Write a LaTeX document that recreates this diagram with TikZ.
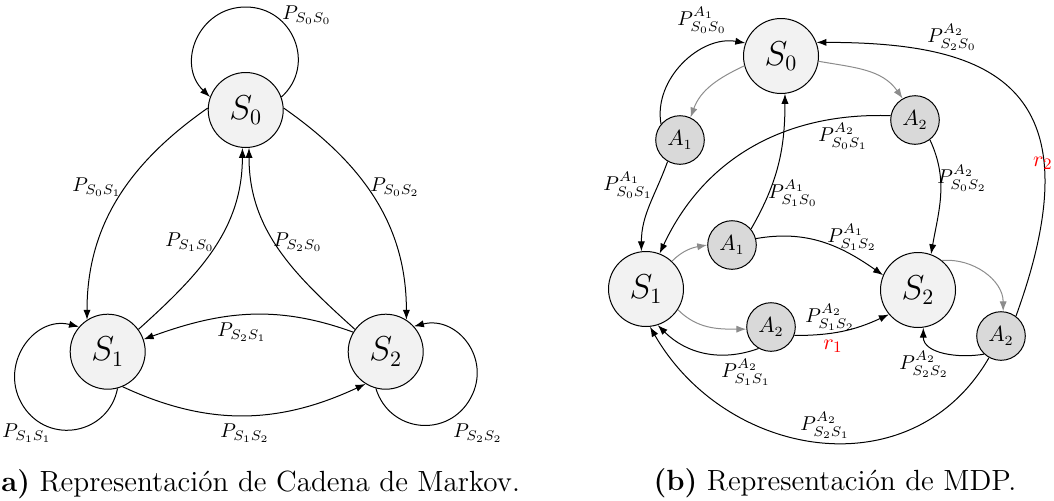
\documentclass[tikz,border=0pt]{standalone}
\usetikzlibrary{arrows.meta}
\definecolor{statefill}{HTML}{F2F2F2}
\definecolor{actfill}{HTML}{D9D9D9}
\definecolor{linkgray}{HTML}{8C8C8C}
\definecolor{rewardred}{HTML}{FF0000}
\begin{document}
\begin{tikzpicture}[x=0.5pt,y=0.5pt,
  >={Latex[length=5pt,width=3.6pt]},
  state/.style={circle,draw,line width=0.5pt,fill=statefill,minimum size=37.5pt,inner sep=0pt,
    font=\fontsize{16}{18}\selectfont},
  act/.style={circle,draw,line width=0.5pt,fill=actfill,minimum size=24.3pt,inner sep=0pt,
    font=\fontsize{10.5}{12}\selectfont},
  lbl/.style={inner sep=0pt,font=\fontsize{10}{12}\selectfont},
  rew/.style={inner sep=0pt,text=rewardred,font=\fontsize{11}{13}\selectfont},
  captiontext/.style={inner sep=0pt,font=\fontsize{14.6}{17}\selectfont},
  edge/.style={draw,->,line width=0.5pt},
  gedge/.style={edge,linkgray}]
\useasboundingbox (0,0) rectangle (1054,500);
\clip (0,0) rectangle (1054,500);

% ---------- Markov chain ----------
\node[state] (L0) at (245.7,390) {$S_0$};
\node[state] (L1) at (107.7,148.3) {$S_1$};
\node[state] (L2) at (385.7,148.3) {$S_2$};

% self loops, each passing through its outermost point
\coordinate (L0top) at ([yshift=51.5pt]L0.center);
\coordinate (L1far) at ([xshift=-42.15pt,yshift=-27.35pt]L1.center);
\coordinate (L2far) at ([xshift=42.5pt,yshift=-23.1pt]L2.center);
\draw[edge] (L0.20) to[out=42,in=0,looseness=1.25] (L0top)
  to[out=180,in=136,looseness=1.25] (L0.160);
\draw[edge] (L1.-75) to[out=259,in=-57,looseness=1.25] (L1far)
  to[out=123,in=166,looseness=1.25] (L1.139);
\draw[edge] (L2.-105) to[out=-73,in=241.5,looseness=1.25] (L2far)
  to[out=61.5,in=14,looseness=1.25] (L2.42);

\draw[edge] (L0.177) to[out=215,in=90] (L1.123);
\draw[edge] (L0.3) to[out=-35,in=90] (L2.57);
\draw[edge] (L1.36) to[out=42,in=-90] (L0.265);
\draw[edge] (L2.144) to[out=138,in=-90] (L0.275);
\draw[edge] (L2.149) to[out=160,in=20] (L1.19);
\draw[edge] (L1.-67) to[out=-25,in=205] (L2.-122);

\node[lbl] (ls00) at (307,485) {$P_{S_0S_0}$};
\node[lbl] (ls01) at (97,313) {$P_{S_0S_1}$};
\node[lbl] (ls02) at (395,313) {$P_{S_0S_2}$};
\node[lbl] (ls10) at (190,258) {$P_{S_1S_0}$};
\node[lbl] (ls20) at (298,258) {$P_{S_2S_0}$};
\node[lbl] (ls21) at (242,168) {$P_{S_2S_1}$};
\node[lbl] (ls12) at (245,67) {$P_{S_1S_2}$};
\node[lbl] (ls11) at (27,67) {$P_{S_1S_1}$};
\node[lbl] (ls22) at (478,67) {$P_{S_2S_2}$};

\node[captiontext,anchor=base west] (capa) at (1,9) {\textbf{a)} Representación de Cadena de Markov.};

% ---------- MDP ----------
\node[state] (RS0) at (781,444) {$S_0$};
\node[state] (RS1) at (646,211) {$S_1$};
\node[state] (RS2) at (918,210) {$S_2$};
\node[act] (RA1a) at (680,360) {$A_1$};
\node[act] (RA2a) at (915,380) {$A_2$};
\node[act] (RA1b) at (732,255) {$A_1$};
\node[act] (RA2b) at (771,173) {$A_2$};
\node[act] (RA2c) at (1001,164) {$A_2$};

% choices of action
\draw[gedge] (RS0.195) to[out=205,in=70] (RA1a.65);
\draw[gedge] (RS0.-8) to[out=-10,in=125] (RA2a.120);
\draw[gedge] (RS1.47) to[out=45,in=190] (RA1b.180);
\draw[gedge] (RS1.-33) to[out=-45,in=180] (RA2b.185);
\draw[gedge] (RS2.51) to[out=5,in=90] (RA2c.85);

% transitions
\draw[edge] (RA1a.140) to[out=100,in=170] (RS0.160);
\draw[edge] (RA1a.240) to[out=250,in=90] (RS1.97);
\draw[edge] (RA2a.-53) to[out=-65,in=80] (RS2.70);
\draw[edge] (RA2a.170) to[out=178,in=65] (RS1.69);
\draw[edge] (RA1b.40) to[out=60,in=-90] (RS0.-84);
\draw[edge] (RA1b.15) to[out=10,in=145] (RS2.157);
\draw[edge] (RA2b.-20) to[out=0,in=205] (RS2.220);
\draw[edge] (RA2b.240) to[out=200,in=-45] (RS1.-72);
\draw[edge] (RA2c.227) to[out=190,in=-90] (RS2.-82);
\draw[edge] (RA2c.241) to[out=-120,in=-60,looseness=1.15] (RS1.-84);
\draw[edge] (RA2c.53) .. controls +(70:250) and +(0:170) .. (RS0.21);

\node[lbl] (m000) at (702,480) {$P^{A_1}_{S_0S_0}$};
\node[lbl] (m220) at (952,463) {$P^{A_2}_{S_2S_0}$};
\node[lbl] (m201) at (843,364) {$P^{A_2}_{S_0S_1}$};
\node[lbl] (m101) at (628,315) {$P^{A_1}_{S_0S_1}$};
\node[lbl] (m202) at (962,322) {$P^{A_2}_{S_0S_2}$};
\node[lbl] (m110) at (793,307) {$P^{A_1}_{S_1S_0}$};
\node[lbl] (m112) at (852,263) {$P^{A_1}_{S_1S_2}$};
\node[lbl] (m212) at (830,183) {$P^{A_2}_{S_1S_2}$};
\node[lbl] (m211) at (746,128) {$P^{A_2}_{S_1S_1}$};
\node[lbl] (m222) at (924,136) {$P^{A_2}_{S_2S_2}$};
\node[lbl] (m221) at (825,75) {$P^{A_2}_{S_2S_1}$};
\node[rew] (rone) at (833,154) {$r_1$};
\node[rew,anchor=east] (rtwo) at (1053,337) {$r_2$};

\node[captiontext] (capb) at (835,17) {\textbf{(b)} Representación de MDP.};
\end{tikzpicture}
\end{document}
